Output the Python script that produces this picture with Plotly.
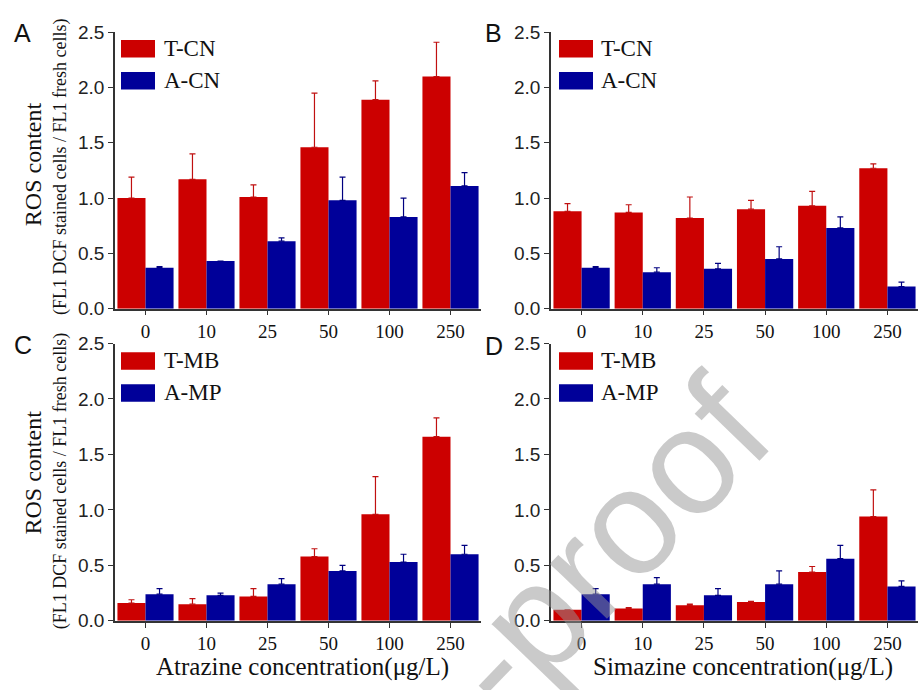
import plotly.graph_objects as go

# ---------------- data ----------------
categories = ["0", "10", "25", "50", "100", "250"]

# Panel A: Atrazine, T-CN / A-CN
a_t_cn = [1.00, 1.17, 1.01, 1.46, 1.89, 2.10]
a_t_cn_err = [0.19, 0.23, 0.11, 0.49, 0.17, 0.31]
a_a_cn = [0.37, 0.43, 0.61, 0.98, 0.83, 1.11]
a_a_cn_err = [0.01, 0.00, 0.03, 0.21, 0.17, 0.12]

# Panel B: Simazine, T-CN / A-CN
b_t_cn = [0.88, 0.87, 0.82, 0.90, 0.93, 1.27]
b_t_cn_err = [0.07, 0.07, 0.19, 0.08, 0.13, 0.04]
b_a_cn = [0.37, 0.33, 0.36, 0.45, 0.73, 0.20]
b_a_cn_err = [0.01, 0.04, 0.05, 0.11, 0.10, 0.04]

# Panel C: Atrazine, T-MB / A-MP
c_t_mb = [0.16, 0.15, 0.22, 0.58, 0.96, 1.66]
c_t_mb_err = [0.03, 0.05, 0.07, 0.07, 0.34, 0.17]
c_a_mp = [0.24, 0.23, 0.33, 0.45, 0.53, 0.60]
c_a_mp_err = [0.05, 0.02, 0.05, 0.05, 0.07, 0.08]

# Panel D: Simazine, T-MB / A-MP
d_t_mb = [0.10, 0.11, 0.14, 0.17, 0.44, 0.94]
d_t_mb_err = [0.00, 0.01, 0.01, 0.005, 0.05, 0.24]
d_a_mp = [0.24, 0.33, 0.23, 0.33, 0.56, 0.31]
d_a_mp_err = [0.05, 0.06, 0.06, 0.12, 0.12, 0.05]

# ---------------- style ----------------
W, H = 918, 690
RED, BLUE = "#CC0000", "#000099"
RED_ERR, BLUE_ERR = "#C01010", "#000080"
SERIF = "Liberation Serif"
SANS = "Liberation Sans"
AXC = "#333333"


def px(x):
    return x / W


def py(y):
    return 1 - y / H


panels = [
    dict(ax="", xd=(115, 481), yd=(23, 308), red=a_t_cn, rerr=a_t_cn_err, blue=a_a_cn, berr=a_a_cn_err,
         names=("T-CN", "A-CN")),
    dict(ax="2", xd=(551, 918), yd=(23, 308), red=b_t_cn, rerr=b_t_cn_err, blue=b_a_cn, berr=b_a_cn_err,
         names=("T-CN", "A-CN")),
    dict(ax="3", xd=(115, 481), yd=(344, 630), red=c_t_mb, rerr=c_t_mb_err, blue=c_a_mp, berr=c_a_mp_err,
         names=("T-MB", "A-MP")),
    dict(ax="4", xd=(551, 918), yd=(344, 630), red=d_t_mb, rerr=d_t_mb_err, blue=d_a_mp, berr=d_a_mp_err,
         names=("T-MB", "A-MP")),
]

fig = go.Figure()
layout = {}
for p in panels:
    xa, ya = "x" + p["ax"], "y" + p["ax"]
    fig.add_trace(go.Bar(
        x=categories, y=p["red"], name=p["names"][0], marker=dict(color=RED, line=dict(width=0)),
        error_y=dict(type="data", symmetric=False, array=p["rerr"], arrayminus=[0] * 6,
                     color=RED_ERR, thickness=1.2, width=3),
        xaxis=xa, yaxis=ya, showlegend=False))
    fig.add_trace(go.Bar(
        x=categories, y=p["blue"], name=p["names"][1], marker=dict(color=BLUE, line=dict(width=0)),
        error_y=dict(type="data", symmetric=False, array=p["berr"], arrayminus=[0] * 6,
                     color=BLUE_ERR, thickness=1.2, width=3),
        xaxis=xa, yaxis=ya, showlegend=False))
    layout["xaxis" + p["ax"]] = dict(
        domain=[px(p["xd"][0]), px(p["xd"][1])], anchor=ya, range=[-0.5, 5.5], type="category",
        showline=True, linecolor=AXC, linewidth=1.5, ticks="outside", ticklen=5, tickcolor=AXC,
        tickfont=dict(family=SERIF, size=19, color="#111"), showgrid=False, zeroline=False, fixedrange=True)
    layout["yaxis" + p["ax"]] = dict(
        domain=[py(p["yd"][1]), py(p["yd"][0])], anchor=xa, range=[0, 2.5], dtick=0.5, tickformat=".1f",
        showline=True, linecolor=AXC, linewidth=1.5, ticks="outside", ticklen=5, tickcolor=AXC,
        tickfont=dict(family=SANS, size=19, color="#222"), showgrid=False, zeroline=False, fixedrange=True)

shapes = []
annotations = []

legend_pos = [
    (121, 155, [(31, 49), (64, 82)], 162),
    (559, 593, [(31, 49), (64, 82)], 599),
    (121, 155, [(353, 371), (386, 404)], 162),
    (559, 593, [(353, 371), (386, 404)], 599),
]
for p, (x0, x1, ys, tx) in zip(panels, legend_pos):
    for (y0, y1), col, name in zip(ys, [RED, BLUE], p["names"]):
        shapes.append(dict(type="rect", xref="paper", yref="paper", x0=px(x0), x1=px(x1),
                           y0=py(y1), y1=py(y0), fillcolor=col, line=dict(width=0)))
        annotations.append(dict(text=name, xref="paper", yref="paper", x=px(tx), y=py((y0 + y1) / 2),
                                xanchor="left", yanchor="middle", showarrow=False,
                                font=dict(family=SERIF, size=23, color="#111")))

for letter, (lx, ly) in zip(["A", "B", "C", "D"], [(22, 24), (493, 24), (23, 345), (494, 347)]):
    annotations.append(dict(text=letter, xref="paper", yref="paper", x=px(lx), y=py(ly),
                            xanchor="center", yanchor="middle", showarrow=False,
                            font=dict(family=SANS, size=25, color="#111")))

for title, (tx, ty) in [("Atrazine concentration(μg/L)", (302, 678)),
                        ("Simazine concentration(μg/L)", (743, 678))]:
    annotations.append(dict(text=title, xref="paper", yref="paper", x=px(tx), y=py(ty),
                            xanchor="center", yanchor="middle", showarrow=False,
                            font=dict(family=SERIF, size=25, color="#111")))

for (ry, sy) in [(159, 162), (477, 486)]:
    annotations.append(dict(text="ROS content", xref="paper", yref="paper", x=px(33), y=py(ry),
                            xanchor="center", yanchor="middle", textangle=-90, showarrow=False,
                            font=dict(family=SERIF, size=24, color="#111")))
    annotations.append(dict(text="(FL1 DCF stained cells / FL1 fresh cells)", xref="paper", yref="paper",
                            x=px(60), y=py(sy), xanchor="center", yanchor="middle", textangle=-90,
                            showarrow=False, font=dict(family=SERIF, size=18, color="#111")))

# watermark
annotations.append(dict(text="-proof", xref="paper", yref="paper", x=px(606), y=py(552),
                        xanchor="center", yanchor="middle", textangle=-46, showarrow=False,
                        font=dict(family=SANS, size=150, color="rgba(150,150,150,0.5)")))

fig.update_layout(
    width=W, height=H, margin=dict(l=0, r=0, t=0, b=0),
    paper_bgcolor="white", plot_bgcolor="white",
    barmode="group", bargap=0.08, bargroupgap=0,
    shapes=shapes, annotations=annotations, showlegend=False,
    **layout,
)

fig.write_html("out.html")
